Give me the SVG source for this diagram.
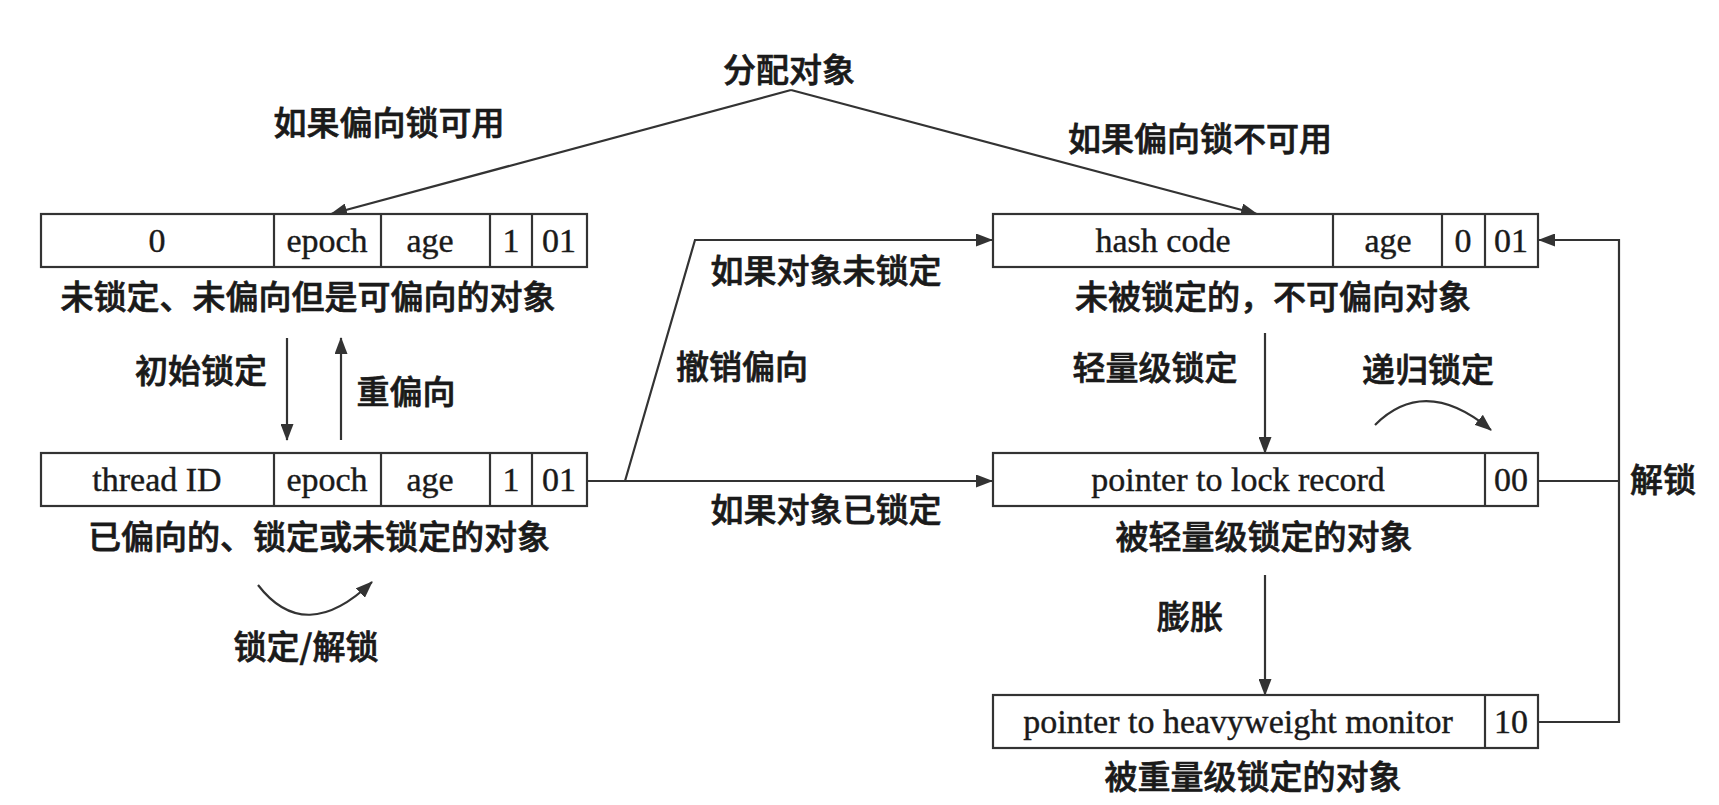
<svg xmlns="http://www.w3.org/2000/svg" width="1719" height="805" viewBox="0 0 1719 805">
<style>
.box{fill:#fff;stroke:#333;stroke-width:2.2}
.div{stroke:#333;stroke-width:2.2}
.bt{font-family:"Liberation Serif","Times New Roman",serif;font-size:34px;fill:#1a1a1a;stroke:#1a1a1a;stroke-width:0.4;text-anchor:middle}
.cn{font-family:"Noto Sans CJK SC","Noto Sans",sans-serif;font-size:33px;fill:#1a1a1a;stroke:#1a1a1a;stroke-width:0.7;text-anchor:middle;font-weight:500}
.ln{fill:none;stroke:#333;stroke-width:2.2}
</style>
<defs>
<marker id="ah" markerUnits="userSpaceOnUse" markerWidth="17" markerHeight="13" refX="16" refY="6.5" orient="auto">
<path d="M0,0 L17,6.5 L0,13 z" fill="#333"/>
</marker>
</defs>
<rect width="1719" height="805" fill="#fff"/>

<g id="connectors">
<path class="ln" d="M791,90 L331,214" marker-end="url(#ah)"/>
<path class="ln" d="M791,90 L1257,214" marker-end="url(#ah)"/>
<path class="ln" d="M287,338 L287,440" marker-end="url(#ah)"/>
<path class="ln" d="M341,440 L341,338" marker-end="url(#ah)"/>
<path class="ln" d="M587,481 L992,481" marker-end="url(#ah)"/>
<path class="ln" d="M625,481 L695,240 L992,240" marker-end="url(#ah)"/>
<path class="ln" d="M1265,333 L1265,453" marker-end="url(#ah)"/>
<path class="ln" d="M1265,575 L1265,695" marker-end="url(#ah)"/>
<path class="ln" d="M1538,481 L1619,481"/>
<path class="ln" d="M1538,722 L1619,722 L1619,240 L1539,240" marker-end="url(#ah)"/>
<path class="ln" d="M258,585 Q305,646 372,582" marker-end="url(#ah)"/>
<path class="ln" d="M1375,425 Q1425,375 1491,430" marker-end="url(#ah)"/>
</g>

<g id="labels">
<text class="cn" x="789" y="82">分配对象</text>
<text class="cn" x="389" y="135">如果偏向锁可用</text>
<text class="cn" x="1200" y="151">如果偏向锁不可用</text>
<text class="cn" x="201" y="383">初始锁定</text>
<text class="cn" x="406" y="404">重偏向</text>
<text class="cn" x="826" y="283">如果对象未锁定</text>
<text class="cn" x="742" y="379">撤销偏向</text>
<text class="cn" x="826" y="522">如果对象已锁定</text>
<text class="cn" x="306" y="659">锁定/解锁</text>
<text class="cn" x="1155" y="380">轻量级锁定</text>
<text class="cn" x="1428" y="382">递归锁定</text>
<text class="cn" x="1663" y="492">解锁</text>
<text class="cn" x="1190" y="629">膨胀</text>
</g>

<g id="node-unlocked-biasable">
<rect class="box" x="41" y="214" width="546" height="53"/>
<line class="div" x1="274" y1="214" x2="274" y2="267"/>
<line class="div" x1="381" y1="214" x2="381" y2="267"/>
<line class="div" x1="490" y1="214" x2="490" y2="267"/>
<line class="div" x1="532" y1="214" x2="532" y2="267"/>
<text class="bt" x="157" y="252">0</text>
<text class="bt" x="327" y="252">epoch</text>
<text class="bt" x="430" y="252">age</text>
<text class="bt" x="511" y="252">1</text>
<text class="bt" x="559" y="252">01</text>
<text class="cn" x="308" y="309">未锁定、未偏向但是可偏向的对象</text>
</g>

<g id="node-biased">
<rect class="box" x="41" y="453" width="546" height="53"/>
<line class="div" x1="274" y1="453" x2="274" y2="506"/>
<line class="div" x1="381" y1="453" x2="381" y2="506"/>
<line class="div" x1="490" y1="453" x2="490" y2="506"/>
<line class="div" x1="532" y1="453" x2="532" y2="506"/>
<text class="bt" x="157" y="491">thread ID</text>
<text class="bt" x="327" y="491">epoch</text>
<text class="bt" x="430" y="491">age</text>
<text class="bt" x="511" y="491">1</text>
<text class="bt" x="559" y="491">01</text>
<text class="cn" x="319" y="549">已偏向的、锁定或未锁定的对象</text>
</g>

<g id="node-unbiasable">
<rect class="box" x="993" y="214" width="545" height="53"/>
<line class="div" x1="1333" y1="214" x2="1333" y2="267"/>
<line class="div" x1="1442" y1="214" x2="1442" y2="267"/>
<line class="div" x1="1485" y1="214" x2="1485" y2="267"/>
<text class="bt" x="1163" y="252">hash code</text>
<text class="bt" x="1388" y="252">age</text>
<text class="bt" x="1463" y="252">0</text>
<text class="bt" x="1511" y="252">01</text>
<text class="cn" x="1273" y="309">未被锁定的，不可偏向对象</text>
</g>

<g id="node-lightweight">
<rect class="box" x="993" y="453" width="545" height="53"/>
<line class="div" x1="1485" y1="453" x2="1485" y2="506"/>
<text class="bt" x="1238" y="491">pointer to lock record</text>
<text class="bt" x="1511" y="491">00</text>
<text class="cn" x="1264" y="549">被轻量级锁定的对象</text>
</g>

<g id="node-heavyweight">
<rect class="box" x="993" y="695" width="545" height="53"/>
<line class="div" x1="1485" y1="695" x2="1485" y2="748"/>
<text class="bt" x="1238" y="733">pointer to heavyweight monitor</text>
<text class="bt" x="1511" y="733">10</text>
<text class="cn" x="1253" y="789">被重量级锁定的对象</text>
</g>
</svg>
